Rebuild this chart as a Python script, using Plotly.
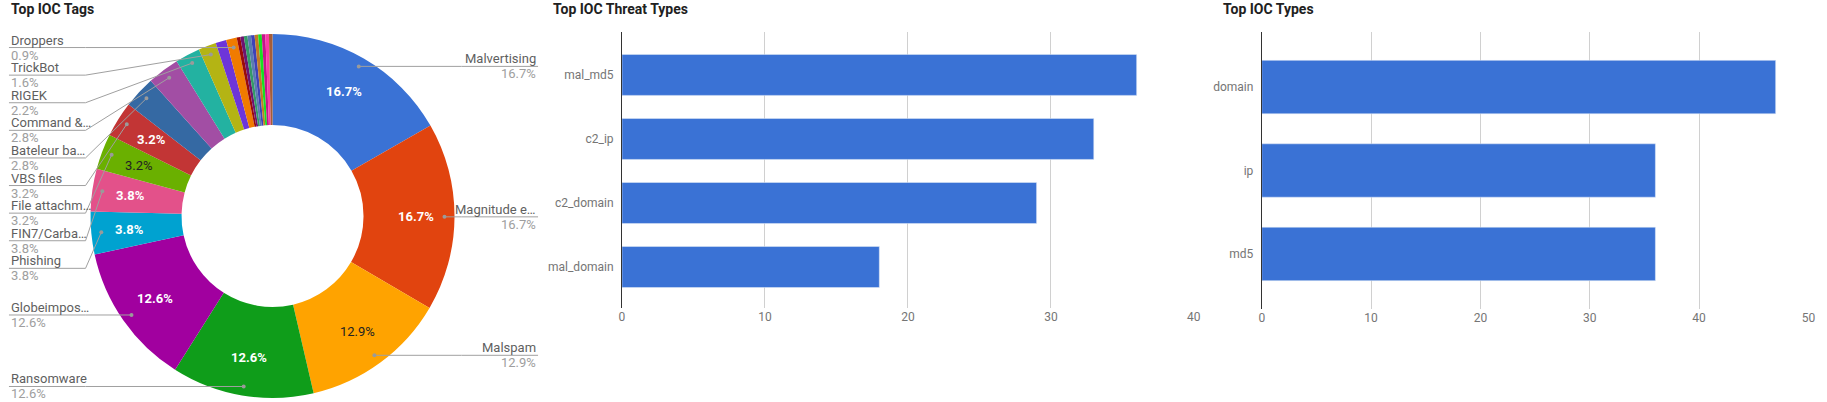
import math
import plotly.graph_objects as go

# ---------------- data ----------------
tag_names = ["Malvertising", "Magnitude e…", "Malspam", "Ransomware", "Globeimpos…",
             "Phishing", "FIN7/Carba…", "File attachm…", "VBS files", "Bateleur ba…",
             "Command &…", "RIGEK", "TrickBot", "", "Droppers",
             "", "", "", "", "", "", "", "", "", ""]
tag_counts = [53, 53, 41, 40, 40, 12, 12, 10, 10, 9, 9, 7, 5, 3, 3,
              1, 1, 1, 1, 1, 1, 1, 1, 1, 1]

threat_types = ["mal_md5", "c2_ip", "c2_domain", "mal_domain"]
threat_counts = [36, 33, 29, 18]

ioc_types = ["domain", "ip", "md5"]
ioc_counts = [47, 36, 36]

# ---------------- styles ----------------
W, H = 1827, 402
FONT = "Roboto"
slice_colors = ["#3a72d5", "#e1440f", "#ffa300", "#0f9d1a", "#a1009f", "#00a2d0",
                "#e3518a", "#6ab000", "#c23535", "#3569a3", "#a24ea4", "#23b2a1",
                "#b4b414", "#6d35d9", "#f07b00", "#9a0a0a", "#6e1470", "#349a68",
                "#5a7cb0", "#3e42b8", "#c27a25", "#17e022", "#c4158b", "#fb3aa6",
                "#a55d38"]
dark_text_slices = {"Malspam", "File attachm…"}
BAR_COLOR = "#3a72d5"
NAME_COLOR = "#5f5f5f"
PCT_COLOR = "#9e9e9e"
LINE_COLOR = "#a0a0a0"

# pie geometry (pixels)
CX, CY, R = 271, 216, 183
HOLE = 0.5
DOT_R = 0.945 * R
TEXT_R = 144
LEFT_X, LEFT_BEND = 6, 83
RIGHT_X, RIGHT_BEND = 538, 461
LABEL_GAP = 27.6


def px(x):
    return x / W


def py(y):
    return 1 - y / H


fig = go.Figure()

pie_labels = [n if n else f"tag {i + 1}" for i, n in enumerate(tag_names)]
fig.add_trace(go.Pie(
    labels=pie_labels, values=tag_counts, sort=False, direction="clockwise",
    rotation=0, hole=HOLE, textinfo="none", hoverinfo="label+percent",
    marker=dict(colors=slice_colors, line=dict(width=0)),
    domain=dict(x=[px(CX - R), px(CX + R)], y=[py(CY + R), py(CY - R)]),
    showlegend=False,
))

fig.add_trace(go.Bar(
    x=threat_counts, y=threat_types, orientation="h", marker_color=BAR_COLOR,
    xaxis="x", yaxis="y", showlegend=False,
))
fig.add_trace(go.Bar(
    x=ioc_counts, y=ioc_types, orientation="h", marker_color=BAR_COLOR,
    xaxis="x2", yaxis="y2", showlegend=False,
))

annotations = []
shapes = []

total = sum(tag_counts)
cum = 0
left, right = [], []
for name, c, col in zip(tag_names, tag_counts, slice_colors):
    a0 = cum / total * 360
    cum += c
    a1 = cum / total * 360
    mid = math.radians((a0 + a1) / 2)
    pct = 100 * c / total
    pct_txt = f"{pct:.1f}%"
    # inside text
    if pct >= 3.0:
        tx = CX + TEXT_R * math.sin(mid)
        ty = CY - TEXT_R * math.cos(mid)
        dark = name in dark_text_slices
        annotations.append(dict(
            x=px(tx), y=py(ty), xref="paper", yref="paper", text=pct_txt,
            showarrow=False, xanchor="center", yanchor="middle",
            font=dict(family=FONT, size=13, color="#222222" if dark else "#ffffff",
                      weight="normal" if dark else "bold")))
    if name:
        dx = CX + DOT_R * math.sin(mid)
        dy = CY - DOT_R * math.cos(mid)
        (right if math.sin(mid) > 0 else left).append((dy, dx, name, pct_txt))


def place(items, side):
    items.sort()
    prev = -1e9
    for dy, dx, name, pct_txt in items:
        ly = max(dy, prev + LABEL_GAP)
        prev = ly
        if side == "left":
            x0, xb, anchor = LEFT_X, LEFT_BEND, "left"
        else:
            x0, xb, anchor = RIGHT_X, RIGHT_BEND, "right"
        path = f"M {px(x0)},{py(ly)} L {px(xb)},{py(ly)} L {px(dx)},{py(dy)}"
        shapes.append(dict(type="path", path=path, xref="paper", yref="paper",
                           line=dict(color=LINE_COLOR, width=1), layer="above"))
        shapes.append(dict(type="circle", xref="paper", yref="paper",
                           x0=px(dx - 2), x1=px(dx + 2), y0=py(dy + 2), y1=py(dy - 2),
                           fillcolor="#9a9a9a", line=dict(width=0), layer="above"))
        annotations.append(dict(x=px(x0), y=py(ly - 7.5), xref="paper", yref="paper",
                                text=name, showarrow=False, xanchor=anchor, yanchor="middle",
                                font=dict(family=FONT, size=13, color=NAME_COLOR)))
        annotations.append(dict(x=px(x0), y=py(ly + 7.5), xref="paper", yref="paper",
                                text=pct_txt, showarrow=False, xanchor=anchor, yanchor="middle",
                                font=dict(family=FONT, size=13, color=PCT_COLOR)))


place(left, "left")
place(right, "right")

for title, x in [("Top IOC Tags", 6), ("Top IOC Threat Types", 551), ("Top IOC Types", 1225)]:
    annotations.append(dict(x=px(x), y=py(9.5), xref="paper", yref="paper", text=title,
                            showarrow=False, xanchor="left", yanchor="middle",
                            font=dict(family=FONT, size=14, color="#212121", weight="bold")))

axis_x_common = dict(showgrid=True, gridcolor="#d0d0d0", gridwidth=1, zeroline=False,
                     showline=False, ticks="", tickfont=dict(family=FONT, size=12, color="#757575"),
                     fixedrange=True)
axis_y_common = dict(showgrid=False, zeroline=False, showline=True, linecolor="#333333",
                     linewidth=1, ticks="", ticklabelstandoff=5,
                     tickfont=dict(family=FONT, size=12, color="#757575"), fixedrange=True)

fig.update_layout(
    width=W, height=H, margin=dict(l=0, r=0, t=0, b=0),
    paper_bgcolor="white", plot_bgcolor="white",
    bargap=0.36,
    xaxis=dict(domain=[px(622.4), px(1197.4)], range=[0, 40], dtick=10, anchor="y",
               **axis_x_common),
    yaxis=dict(domain=[py(308), py(32)], anchor="x", categoryorder="array",
               categoryarray=threat_types, range=[3.64, -0.67], **axis_y_common),
    xaxis2=dict(domain=[px(1265.7), px(1815.4)], range=[0, 50], dtick=10, anchor="y2",
                **axis_x_common),
    yaxis2=dict(domain=[py(309), py(32)], anchor="x2", categoryorder="array",
                categoryarray=ioc_types, range=[2.66, -0.66], **axis_y_common),
    annotations=annotations,
    shapes=shapes,
    font=dict(family=FONT),
)

fig.write_html(
    "out.html",
    config={"displayModeBar": False},
    post_script="document.body.style.margin='0';document.body.style.overflow='hidden';",
)
